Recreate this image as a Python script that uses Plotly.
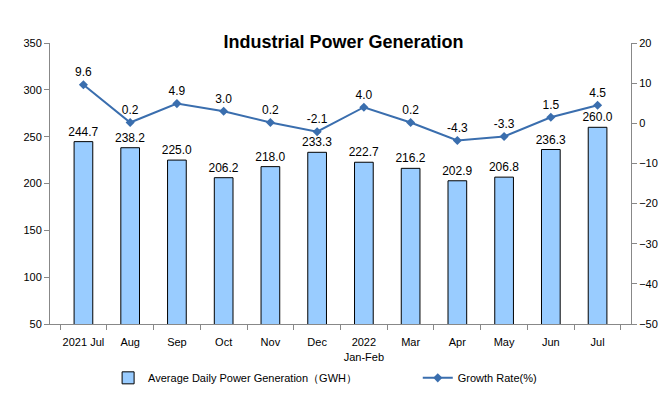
import plotly.graph_objects as go

categories = ["2021 Jul", "Aug", "Sep", "Oct", "Nov", "Dec", "2022<br>Jan-Feb",
              "Mar", "Apr", "May", "Jun", "Jul"]
generation = [244.7, 238.2, 225.0, 206.2, 218.0, 233.3, 222.7, 216.2, 202.9, 206.8, 236.3, 260.0]
growth = [9.6, 0.2, 4.9, 3.0, 0.2, -2.1, 4.0, 0.2, -4.3, -3.3, 1.5, 4.5]

font_family = "Liberation Sans, Arial, sans-serif"

fig = go.Figure()
fig.add_trace(go.Bar(
    x=categories, y=generation,
    name="Average Daily Power Generation（GWH）",
    marker=dict(color="#99CCFF", line=dict(color="black", width=1)),
    width=0.4,
    text=[f"{v:.1f}" for v in generation], textposition="outside",
    constraintext="none",
    textfont=dict(size=12, color="black"), cliponaxis=False,
    legend="legend",
))
fig.add_trace(go.Scatter(
    x=categories, y=growth, yaxis="y2",
    name="Growth Rate(%)", mode="lines+markers+text",
    line=dict(color="#3A6EAE", width=2),
    marker=dict(symbol="diamond", size=7, color="#3A6EAE"),
    text=[f"{v:.1f}" for v in growth], textposition="top center",
    textfont=dict(size=12, color="black"), cliponaxis=False,
    legend="legend2",
))

axis_common = dict(showline=True, linecolor="#888888", linewidth=1,
                   ticks="outside", ticklen=5, tickcolor="#888888",
                   showgrid=False, zeroline=False, automargin=False,
                   tickfont=dict(size=11, color="black"))

legend_common = dict(orientation="h", y=-0.14, yanchor="top", xanchor="left",
                     font=dict(size=11), tracegroupgap=0, bgcolor="rgba(0,0,0,0)")

fig.update_layout(
    width=671, height=398,
    margin=dict(l=50, r=40, t=43, b=74, autoexpand=False),
    paper_bgcolor="white", plot_bgcolor="white",
    font=dict(family=font_family, color="black", size=12),
    title=dict(text="<b>Industrial Power Generation</b>", x=0.512, xanchor="center",
               y=0.895, yanchor="middle", font=dict(size=18, color="black"),
               automargin=False),
    xaxis=dict(axis_common, type="category", tickson="boundaries", tickangle=0,
               ticklabelstandoff=8),
    yaxis=dict(axis_common, range=[50, 350], dtick=50),
    yaxis2=dict(axis_common, range=[-50, 20], dtick=10, overlaying="y", side="right"),
    legend=dict(legend_common, x=0.1),
    legend2=dict(legend_common, x=0.633),
    bargap=0.6,
    showlegend=True,
)

fig.write_html("out.html", config={"displayModeBar": False},
               post_script="document.body.style.margin='0';")
